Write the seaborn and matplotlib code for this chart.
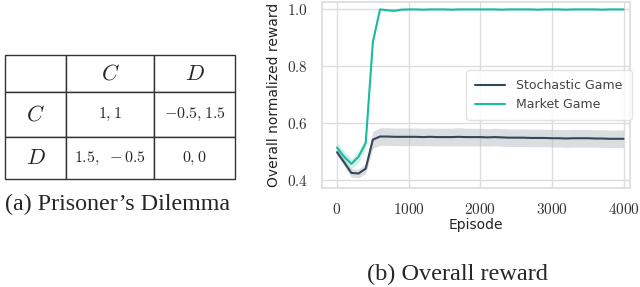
import pandas as pd
import matplotlib
matplotlib.use("Agg")
import matplotlib.pyplot as plt
from matplotlib.ticker import FuncFormatter
import seaborn as sns

# payoff table (Prisoner's Dilemma)
col_labels = ["", "$C$", "$D$"]
row_labels = ["$C$", "$D$"]
payoffs = [["$1,1$", "$-0.5,1.5$"],
           ["$1.5,\\ -0.5$", "$0,0$"]]

# training curves, every 100 episodes
episodes = list(range(0, 4001, 100))
stochastic_mean = [0.498, 0.462, 0.425, 0.423, 0.440, 0.542, 0.553, 0.553, 0.552, 0.552,
                   0.552, 0.552, 0.551, 0.552, 0.551, 0.551, 0.551, 0.552, 0.551, 0.551,
                   0.551, 0.550, 0.551, 0.550, 0.549, 0.549, 0.549, 0.548, 0.548, 0.548,
                   0.547, 0.547, 0.546, 0.547, 0.547, 0.547, 0.546, 0.546, 0.545, 0.545,
                   0.545]
stochastic_std = [0.012, 0.014, 0.015, 0.015, 0.018, 0.030, 0.031, 0.031, 0.031, 0.031,
                  0.031, 0.031, 0.031, 0.031, 0.031, 0.031, 0.031, 0.032, 0.031, 0.031,
                  0.031, 0.031, 0.031, 0.031, 0.031, 0.031, 0.031, 0.031, 0.031, 0.031,
                  0.031, 0.031, 0.031, 0.031, 0.031, 0.031, 0.031, 0.031, 0.031, 0.031,
                  0.031]
market_mean = [0.514, 0.482, 0.457, 0.482, 0.530, 0.885, 1.000, 0.997, 0.995, 0.999,
               1.000, 1.000, 0.999, 1.000, 1.000, 1.000, 0.999, 1.000, 1.000, 1.000,
               1.000, 1.000, 1.000, 0.999, 1.000, 1.000, 1.000, 1.000, 0.999, 1.000,
               1.000, 1.000, 0.999, 1.000, 1.000, 1.000, 1.000, 0.999, 1.000, 1.000,
               1.000]
market_std = [0.018, 0.020, 0.018, 0.020, 0.020, 0.010, 0.003, 0.003, 0.003, 0.002,
              0.002, 0.002, 0.002, 0.002, 0.002, 0.002, 0.002, 0.002, 0.002, 0.002,
              0.002, 0.002, 0.002, 0.002, 0.002, 0.002, 0.002, 0.002, 0.002, 0.002,
              0.002, 0.002, 0.002, 0.002, 0.002, 0.002, 0.002, 0.002, 0.002, 0.002,
              0.002]

sns.set_theme(style="whitegrid")
plt.rcParams.update({
    "font.family": ["DejaVu Sans"],
    "mathtext.fontset": "cm",
    "axes.edgecolor": "#dddddd",
    "grid.color": "#dddddd",
    "grid.linewidth": 1.0,
})

colors = {"Stochastic Game": "#34475a", "Market Game": "#1abc9c"}
band_colors = {"Stochastic Game": "#b8bfc4", "Market Game": "#1abc9c"}
band_alpha = {"Stochastic Game": 0.5, "Market Game": 0.2}

df = pd.concat([
    pd.DataFrame({"Episode": episodes, "reward": stochastic_mean,
                  "std": stochastic_std, "game": "Stochastic Game"}),
    pd.DataFrame({"Episode": episodes, "reward": market_mean,
                  "std": market_std, "game": "Market Game"}),
])

fig = plt.figure(figsize=(6.4, 2.87), dpi=100)

# (a) payoff table
ax_t = fig.add_axes([5 / 640, 1 - 179 / 287, 230 / 640, 124 / 287])
ax_t.axis("off")
cells = [[row_labels[i]] + payoffs[i] for i in range(2)]
tab = ax_t.table(cellText=[col_labels] + cells, cellLoc="center",
                 colWidths=[0.265, 0.383, 0.352], bbox=[0, 0, 1, 1])
tab.auto_set_font_size(False)
row_h = [37, 45, 42]
for (r, c), cell in tab.get_celld().items():
    cell.set_linewidth(1.0)
    cell.set_edgecolor("#333333")
    cell.set_height(row_h[r])
    if r == 0 or c == 0:
        cell.get_text().set_fontsize(16)
    else:
        cell.get_text().set_fontsize(11.5)
fig.text(118 / 640, 1 - 204 / 287, "(a) Prisoner\u2019s Dilemma",
         family="Liberation Serif", fontsize=17.3, ha="center", va="center")

# (b) overall reward
ax = fig.add_axes([322 / 640, 1 - 188 / 287, 308 / 640, 186 / 287])
sns.lineplot(data=df, x="Episode", y="reward", hue="game", palette=colors,
             linewidth=1.5, ax=ax)
for game, g in df.groupby("game", sort=False):
    ax.fill_between(g["Episode"], g["reward"] - g["std"], g["reward"] + g["std"],
                    color=band_colors[game], alpha=band_alpha[game], linewidth=0)

ax.set_xlim(-210, 4090)
ax.set_ylim(0.372, 1.026)
ax.set_xticks([0, 1000, 2000, 3000, 4000])
ax.set_yticks([0.4, 0.6, 0.8, 1.0])
ax.xaxis.set_major_formatter(FuncFormatter(lambda v, p: f"${v:.0f}$"))
ax.yaxis.set_major_formatter(FuncFormatter(lambda v, p: f"${v:.1f}$"))
ax.tick_params(labelsize=11, colors="#333333", pad=4)
ax.set_xlabel("Episode", fontsize=10, color="#222222", labelpad=1)
ax.set_ylabel("Overall normalized reward", fontsize=10, color="#222222", labelpad=4)

leg = ax.legend(loc="center right", bbox_to_anchor=(1.005, 0.5), borderaxespad=0.0,
                fontsize=9, frameon=True, handlelength=2.4, handletextpad=0.9,
                borderpad=0.7, labelspacing=0.5)
leg.get_frame().set_edgecolor("#dddddd")
for t in leg.get_texts():
    t.set_color("#444444")

fig.text(457 / 640, 1 - 274 / 287, "(b) Overall reward",
         family="Liberation Serif", fontsize=17.5, ha="center", va="center")

fig.savefig("out.png", dpi=100)
